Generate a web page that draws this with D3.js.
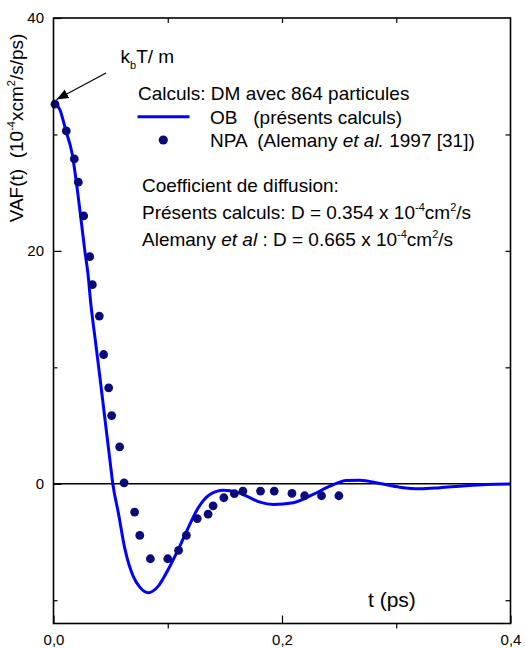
<!DOCTYPE html>
<html>
<head>
<meta charset="utf-8">
<script src="https://cdn.jsdelivr.net/npm/d3@7/dist/d3.min.js"></script>
<style>
  body { margin: 0; background: #fff; }
  svg text { font-family: "Liberation Sans", Arial, sans-serif; fill: #000; white-space: pre; }
</style>
</head>
<body>
<script>
// OB curve (present calculations)
var obTime = [0, 0.0057, 0.0109, 0.0162, 0.0208, 0.0241, 0.0273, 0.0302, 0.0323, 0.0365, 0.0408,
  0.0451, 0.0493, 0.0520, 0.0567, 0.0626, 0.0698, 0.0757, 0.0829, 0.0917, 0.1004, 0.1092,
  0.1179, 0.1267, 0.1369, 0.1486, 0.1603, 0.1690, 0.1807, 0.1923, 0.2098, 0.2273, 0.2419,
  0.2565, 0.2681, 0.2856, 0.3031, 0.3206, 0.3381, 0.3556, 0.3790, 0.4];
var obVaf = [32.9, 32.1, 30.3, 28.4, 25.3, 22.7, 20.1, 18.0, 15.8, 12.4, 9.0,
  5.5, 2.1, -0.06, -2.46, -5.64, -7.96, -8.9, -9.36, -8.79, -7.36, -5.64,
  -3.78, -2.06, -0.92, -0.55, -0.72, -1.06, -1.58, -1.78, -1.63, -0.92, -0.21,
  0.28, 0.31, 0.03, -0.29, -0.43, -0.34, -0.21, -0.06, -0.02];

// NPA points (Alemany et al. 1997)
var npaTime = [0.0013, 0.0112, 0.0182, 0.0217, 0.0264, 0.0317, 0.0340, 0.0401, 0.0439, 0.0483,
  0.0509, 0.0579, 0.0618, 0.0710, 0.0755, 0.0848, 0.1000, 0.1095, 0.1163, 0.1258, 0.1353,
  0.1397, 0.1491, 0.1583, 0.1658, 0.1812, 0.1932, 0.2087, 0.2198, 0.2346, 0.2498];
var npaVaf = [32.6, 30.3, 27.9, 25.9, 23.0, 19.5, 17.1, 14.4, 11.1, 8.24,
  5.86, 3.17, 0.08, -2.43, -4.44, -6.44, -6.44, -5.72, -4.44, -2.99, -2.61,
  -1.89, -1.2, -0.85, -0.63, -0.63, -0.63, -0.83, -1.03, -1.03, -1.03];

var xTicks = [0, 0.1, 0.2, 0.3, 0.4];
var xLabels = ["0,0", "", "0,2", "", "0,4"];
var yTicks = [-10, 0, 10, 20, 30, 40];
var yLabels = ["", "0", "", "20", "", "40"];

var margin = {top: 18, right: 14.5, bottom: 24.5, left: 53.5},
    width = 525 - margin.left - margin.right,
    height = 648 - margin.top - margin.bottom;

var x = d3.scaleLinear().domain([0, 0.4]).range([0, width]);
var y = d3.scaleLinear().domain([-12, 40]).range([height, 0]);

var root = d3.select("body").append("svg")
    .attr("width", 525)
    .attr("height", 648);

var defs = root.append("defs");
defs.append("marker")
    .attr("id", "arrow")
    .attr("viewBox", "0 0 10 10")
    .attr("refX", 10).attr("refY", 5)
    .attr("markerWidth", 12).attr("markerHeight", 12)
    .attr("markerUnits", "userSpaceOnUse")
    .attr("orient", "auto")
  .append("path")
    .attr("d", "M0,1 L10,5 L0,9 z")
    .attr("fill", "#000");

var svg = root.append("g")
    .attr("transform", "translate(" + margin.left + "," + margin.top + ")");

// axes: ticks drawn by d3, inward except the bottom minor ones
function xFmt(d) { return xLabels[xTicks.indexOf(d)]; }
function yFmt(d) { return yLabels[yTicks.indexOf(d)]; }

var bottom = svg.append("g")
    .attr("transform", "translate(0," + height + ")")
    .call(d3.axisBottom(x).tickValues(xTicks).tickFormat(xFmt).tickSize(-8).tickPadding(10));
bottom.selectAll(".tick line")
    .attr("y2", function(d) { return xLabels[xTicks.indexOf(d)] ? -8 : 5; });
bottom.selectAll(".tick text").attr("y", 21.5).attr("dy", 0);

var left = svg.append("g")
    .call(d3.axisLeft(y).tickValues(yTicks).tickFormat(yFmt).tickSize(-8).tickPadding(9.5));
left.selectAll(".tick line")
    .attr("x2", function(d) { return yLabels[yTicks.indexOf(d)] ? 8 : 4; });

svg.append("g")
    .call(d3.axisTop(x).tickValues([0.1, 0.2, 0.3]).tickFormat("").tickSize(-5));
svg.append("g")
    .attr("transform", "translate(" + width + ",0)")
    .call(d3.axisRight(y).tickValues([-10, 0, 10, 20, 30]).tickFormat("").tickSize(-5));

svg.selectAll(".domain").remove();
svg.selectAll(".tick line").attr("stroke", "#000").attr("stroke-width", 1.2);
svg.selectAll(".tick text")
    .style("font-family", "'Liberation Sans', Arial, sans-serif")
    .style("font-size", "15px")
    .attr("fill", "#000");

// zero line
svg.append("line")
    .attr("x1", 0).attr("x2", width)
    .attr("y1", y(0)).attr("y2", y(0))
    .attr("stroke", "#000").attr("stroke-width", 1.4);

var line = d3.line()
    .x(function(d) { return x(d[0]); })
    .y(function(d) { return y(d[1]); })
    .curve(d3.curveMonotoneX);

svg.append("path")
    .datum(d3.zip(obTime, obVaf))
    .attr("d", line)
    .attr("fill", "none")
    .attr("stroke", "#0000ff")
    .attr("stroke-width", 3);

svg.selectAll(".npa")
    .data(d3.zip(npaTime, npaVaf))
  .enter().append("circle")
    .attr("class", "npa")
    .attr("cx", function(d) { return x(d[0]); })
    .attr("cy", function(d) { return y(d[1]); })
    .attr("r", 4.4)
    .attr("fill", "#0a0a7a");

// frame
svg.append("rect")
    .attr("width", width).attr("height", height)
    .attr("fill", "none")
    .attr("stroke", "#000")
    .attr("stroke-width", 1.6);

// rich text helper: parts are [text, kind] with kind "", "i", "sup" or "sub"
function richText(parent, px, py, size, parts) {
  var t = parent.append("text")
      .attr("x", px).attr("y", py)
      .style("font-size", size + "px");
  var shift = 0;
  parts.forEach(function(p) {
    var target = 0;
    if (p[1] === "sup") target = -0.4 * size;
    if (p[1] === "sub") target = 0.3 * size;
    var s = t.append("tspan").attr("dy", target - shift).text(p[0]);
    shift = target;
    if (p[1] === "sup" || p[1] === "sub") s.style("font-size", Math.round(size * 0.6) + "px");
    if (p[1] === "i") s.style("font-style", "italic");
  });
  return t;
}

var fs = 19;
richText(root, 120.5, 63, fs, [["k", ""], ["b", "sub"], ["T/ m", ""]]);
root.append("line")
    .attr("x1", 106).attr("y1", 73)
    .attr("x2", 56.5).attr("y2", 99.5)
    .attr("stroke", "#000").attr("stroke-width", 1.2)
    .attr("marker-end", "url(#arrow)");

richText(root, 138, 100, fs, [["Calculs: DM avec 864 particules", ""]]);
root.append("line")
    .attr("x1", 137.5).attr("x2", 189.5)
    .attr("y1", 116.7).attr("y2", 116.7)
    .attr("stroke", "#0000ff").attr("stroke-width", 3);
richText(root, 210, 123.5, fs, [["OB   (présents calculs)", ""]]);
root.append("circle")
    .attr("cx", 163.3).attr("cy", 140)
    .attr("r", 4.6)
    .attr("fill", "#0a0a7a");
richText(root, 210, 147, fs, [["NPA  (Alemany ", ""], ["et al.", "i"], [" 1997 [31])", ""]]);

richText(root, 142, 192, fs, [["Coefficient de diffusion:", ""]]);
richText(root, 142, 218.5, fs, [["Présents calculs: D = 0.354 x 10", ""], ["-4", "sup"], ["cm", ""], ["2", "sup"], ["/s", ""]]);
richText(root, 142, 246, fs, [["Alemany ", ""], ["et al", "i"], [" : D = 0.665 x 10", ""], ["-4", "sup"], ["cm", ""], ["2", "sup"], ["/s", ""]]);

richText(root, 368, 607, 21, [["t (ps)", ""]]);

// y axis title
richText(root, 0, 0, fs, [["VAF(t)  (10", ""], ["-4", "sup"], ["xcm", ""], ["2", "sup"], ["/s/ps)", ""]])
    .attr("text-anchor", "middle")
    .attr("transform", "translate(22.5,128) rotate(-90)");
</script>
</body>
</html>
